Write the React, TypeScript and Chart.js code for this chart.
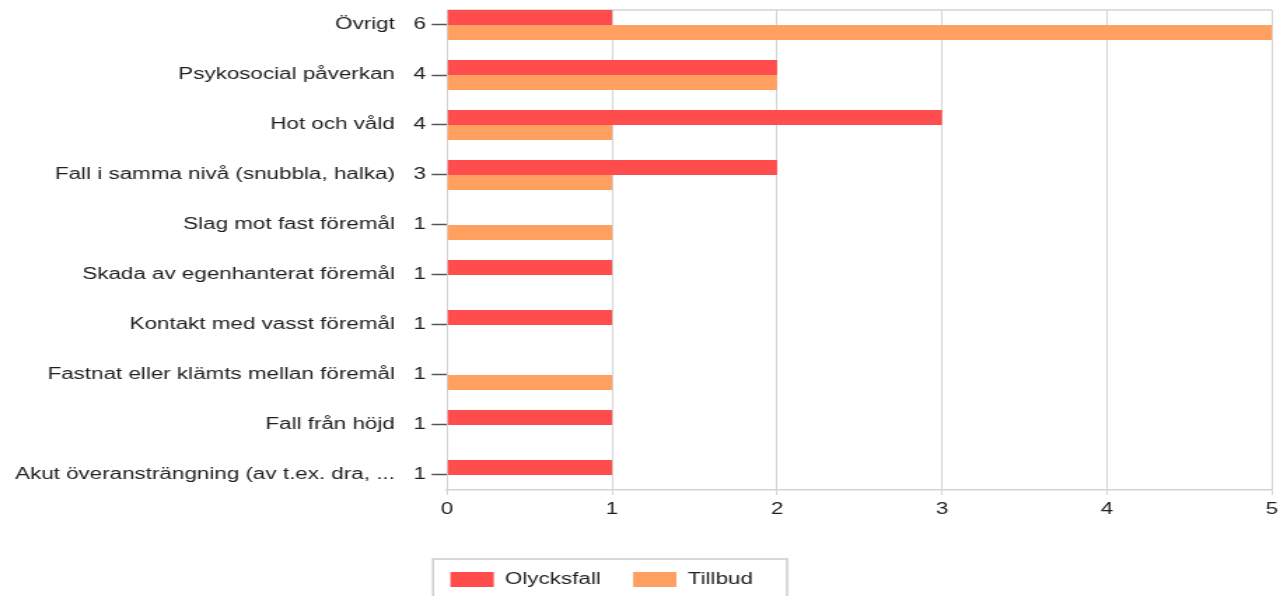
import React, { useEffect, useRef } from "react";
import { Chart, registerables } from "chart.js";

Chart.register(...registerables);

// ---- data ----
const categories: string[] = [
  "Övrigt",
  "Psykosocial påverkan",
  "Hot och våld",
  "Fall i samma nivå (snubbla, halka)",
  "Slag mot fast föremål",
  "Skada av egenhanterat föremål",
  "Kontakt med vasst föremål",
  "Fastnat eller klämts mellan föremål",
  "Fall från höjd",
  "Akut överansträngning (av t.ex. dra, ...",
];
const olycksfall: number[] = [1, 2, 3, 2, 0, 1, 1, 0, 1, 1];
const tillbud: number[] = [5, 2, 1, 1, 1, 0, 0, 1, 0, 0];
const xTicks: number[] = [0, 1, 2, 3, 4, 5];
const seriesNames: string[] = ["Olycksfall", "Tillbud"];

// ---- styles ----
const RED = "#ff4c4c";
const ORANGE = "#ffa061";
const GRID = "#d3d3d3";
const TEXT = "#1e1e1e";
const FONT = "'Liberation Sans', Arial, sans-serif";
const CANVAS_W = 914; // stretched to 1280 by CSS
const CANVAS_H = 596;
const Y_AXIS_W = 319.2;
const LEGEND_LEFT = 298.6;
const LEGEND_TOP = 548.5;
const FRAME_LEFT = 309.2;
const FRAME_RIGHT = 562;
const FRAME_TOP = 559;

const totals = categories.map((_, i) => olycksfall[i] + tillbud[i]);

const framePlugin = {
  id: "framePlugin",
  afterLayout(chart: any) {
    const lg = chart.legend;
    if (lg) {
      const h = lg.height;
      lg.left = LEGEND_LEFT;
      lg.right = chart.width;
      lg.top = LEGEND_TOP;
      lg.bottom = LEGEND_TOP + h;
    }
  },
  beforeDatasetsDraw(chart: any) {
    const { ctx, chartArea } = chart;
    ctx.save();
    ctx.strokeStyle = GRID;
    ctx.lineWidth = 1.5;
    ctx.beginPath();
    ctx.moveTo(chartArea.left, chartArea.top);
    ctx.lineTo(chartArea.right, chartArea.top);
    ctx.stroke();
    ctx.restore();
  },
  afterDraw(chart: any) {
    const { ctx } = chart;
    ctx.save();
    ctx.strokeStyle = "#cccccc";
    ctx.lineWidth = 1.5;
    ctx.strokeRect(FRAME_LEFT, FRAME_TOP, FRAME_RIGHT - FRAME_LEFT, 60);
    ctx.restore();
  },
};

export default function App() {
  const ref = useRef<HTMLCanvasElement>(null);

  useEffect(() => {
    const canvas = ref.current;
    if (!canvas) return;
    Chart.defaults.font.family = FONT;
    Chart.defaults.font.size = 16;
    Chart.defaults.color = TEXT;

    const chart = new Chart(canvas, {
      type: "bar",
      data: {
        datasets: [
          {
            label: seriesNames[0],
            data: olycksfall.map((v, i) => ({ x: v, y: i })),
            backgroundColor: RED,
            borderWidth: 0,
          },
          {
            label: seriesNames[1],
            data: tillbud.map((v, i) => ({ x: v, y: i })),
            backgroundColor: ORANGE,
            borderWidth: 0,
          },
        ],
      },
      options: {
        indexAxis: "y",
        responsive: false,
        animation: false,
        events: [],
        datasets: {
          bar: { categoryPercentage: 0.6, barPercentage: 1.0 },
        },
        layout: {
          padding: { top: 10, right: CANVAS_W - 908.3, bottom: 22.8, left: 0 },
        },
        scales: {
          x: {
            type: "linear",
            min: xTicks[0],
            max: xTicks[xTicks.length - 1],
            offset: false,
            afterBuildTicks: (scale: any) => {
              scale.ticks = xTicks.map((v) => ({ value: v }));
            },
            afterFit: (scale: any) => {
              scale.paddingLeft = 0;
              scale.paddingRight = 0;
            },
            ticks: {
              padding: 5,
              color: TEXT,
              font: { family: FONT, size: 16 },
            },
            grid: {
              offset: false,
              color: GRID,
              lineWidth: 1,
              tickLength: 5,
              tickColor: GRID,
            },
            border: { color: GRID, width: 1.5 },
          },
          y: {
            type: "linear",
            reverse: true,
            offset: false,
            min: -0.3,
            max: categories.length - 0.7,
            afterBuildTicks: (scale: any) => {
              scale.ticks = categories.map((_, i) => ({ value: i }));
            },
            afterFit: (scale: any) => {
              scale.width = Y_AXIS_W;
              scale.paddingTop = 0;
              scale.paddingBottom = 0;
            },
            ticks: {
              autoSkip: false,
              padding: 4,
              color: TEXT,
              font: { family: FONT, size: 16 },
              callback: (v: any) => {
                const i = Number(v);
                return Number.isInteger(i) && categories[i] !== undefined
                  ? `${categories[i]}   ${totals[i]}`
                  : "";
              },
            },
            grid: {
              offset: false,
              drawOnChartArea: false,
              tickLength: 11,
              tickColor: "#555555",
              tickWidth: 1.5,
            },
            border: { color: GRID, width: 1 },
          },
        },
        plugins: {
          tooltip: { enabled: false },
          title: { display: false },
          legend: {
            display: true,
            position: "bottom",
            align: "start",
            labels: {
              boxWidth: 31,
              boxHeight: 15,
              padding: 23,
              color: TEXT,
              font: { family: FONT, size: 16 },
            },
          },
        },
      },
      plugins: [framePlugin],
    } as any);

    return () => chart.destroy();
  }, []);

  return (
    <div
      style={{
        position: "absolute",
        left: 0,
        top: 0,
        width: 1280,
        height: 596,
        overflow: "hidden",
        background: "#ffffff",
      }}
    >
      <canvas
        ref={ref}
        width={CANVAS_W}
        height={CANVAS_H}
        style={{ width: "1280px", height: "596px", display: "block" }}
      />
    </div>
  );
}
